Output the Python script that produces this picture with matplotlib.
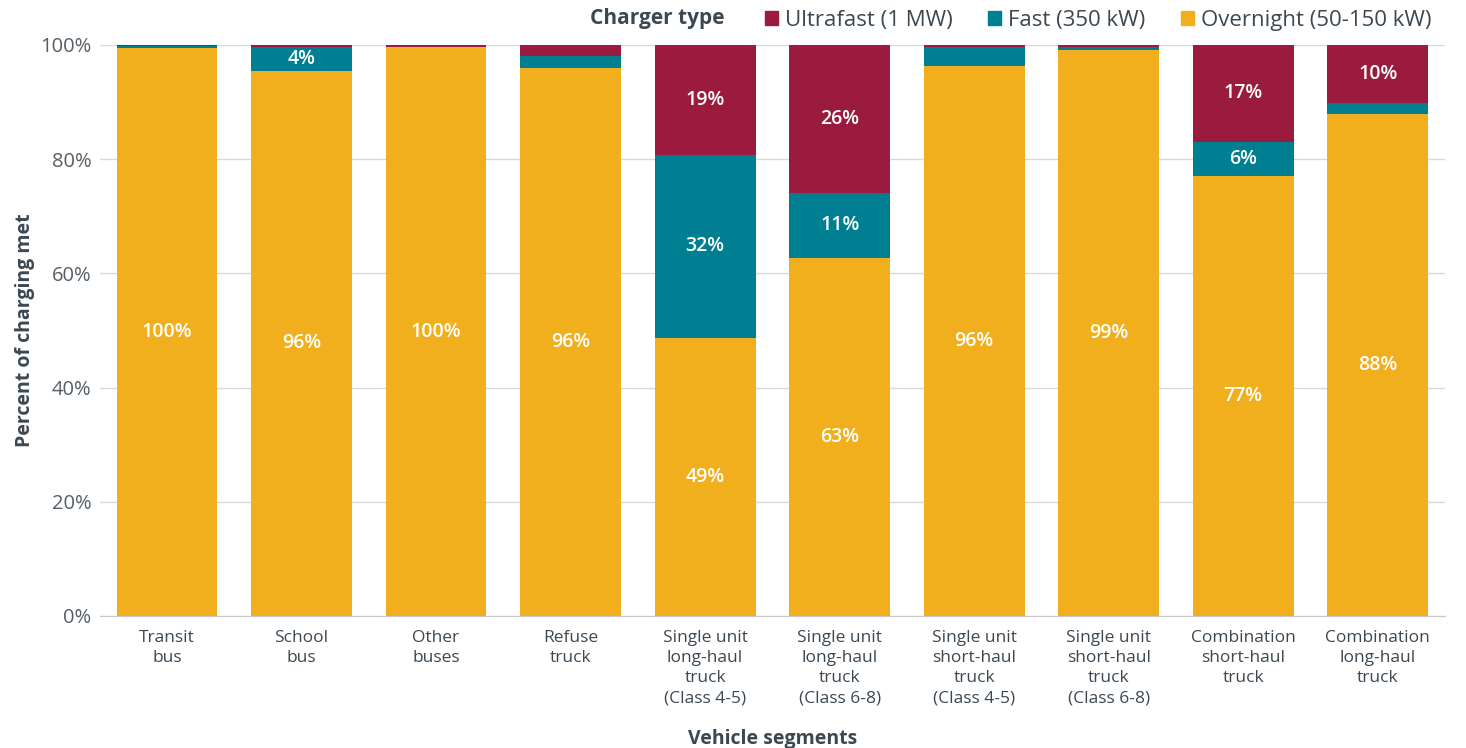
import matplotlib.pyplot as plt
import numpy as np
from matplotlib.patches import Patch

plt.rcParams["font.family"] = ["Open Sans", "DejaVu Sans"]

# Vehicle segments (x axis)
segments = [
    "Transit\nbus",
    "School\nbus",
    "Other\nbuses",
    "Refuse\ntruck",
    "Single unit\nlong-haul\ntruck\n(Class 4-5)",
    "Single unit\nlong-haul\ntruck\n(Class 6-8)",
    "Single unit\nshort-haul\ntruck\n(Class 4-5)",
    "Single unit\nshort-haul\ntruck\n(Class 6-8)",
    "Combination\nshort-haul\ntruck",
    "Combination\nlong-haul\ntruck",
]

# Share of charging met (%) by charger type
overnight = [99.5, 95.5, 99.6, 96.0, 48.7, 62.7, 96.3, 99.1, 77.1, 87.9]
fast = [0.25, 4.2, 0.0, 2.1, 32.0, 11.4, 3.4, 0.6, 5.9, 1.9]
ultrafast = [0.25, 0.3, 0.4, 1.9, 19.3, 25.9, 0.3, 0.3, 17.0, 10.2]

series_names = ["Ultrafast (1 MW)", "Fast (350 kW)", "Overnight (50-150 kW)"]
colors = {"overnight": "#f2af1d", "fast": "#007f92", "ultrafast": "#9b1b3e"}

text_dark = "#3b4852"
label_min = 3.8  # hide labels for thin segments

fig = plt.figure(figsize=(14.66, 7.48), dpi=100)
ax = fig.add_axes([0.068, 0.1765, 0.9177, 0.7635])

x = np.arange(len(segments))
width = 0.75
bottom = np.zeros(len(segments))
for key, vals in [("overnight", overnight), ("fast", fast), ("ultrafast", ultrafast)]:
    vals = np.array(vals)
    ax.bar(x, vals, width, bottom=bottom, color=colors[key], zorder=3)
    for xi, b, v in zip(x, bottom, vals):
        if v >= label_min:
            ax.text(xi, b + v / 2, f"{round(v):.0f}%", ha="center", va="center",
                    color="white", fontsize=14, fontweight="semibold", zorder=4)
    bottom += vals

ax.set_xlim(-0.5, len(segments) - 0.5)
ax.set_ylim(0, 100)
ax.set_yticks(np.arange(0, 101, 20))
ax.set_yticklabels([f"{v}%" for v in range(0, 101, 20)])
ax.grid(axis="y", color="#d9d9d9", linewidth=1, zorder=0)
ax.set_axisbelow(True)
for side in ["top", "right", "left"]:
    ax.spines[side].set_visible(False)
ax.spines["bottom"].set_color("#c8c8c8")
ax.spines["bottom"].set_linestyle((0, (2, 1)))
ax.tick_params(axis="y", length=0, pad=6, labelsize=14.5, labelcolor="#555f66")
ax.tick_params(axis="x", length=0, pad=10, labelsize=12.5, labelcolor=text_dark)
ax.set_xticks(x)
ax.set_xticklabels(segments, linespacing=1.35, va="top")

ax.set_ylabel("Percent of charging met", fontsize=14, fontweight="bold",
              color=text_dark, labelpad=4)
ax.set_xlabel("Vehicle segments", fontsize=14, fontweight="bold",
              color=text_dark, labelpad=16)

handles = [Patch(color=colors["ultrafast"]), Patch(color=colors["fast"]),
           Patch(color=colors["overnight"])]
leg = fig.legend(handles, series_names, loc="upper right",
                 bbox_to_anchor=(0.990, 1.014), ncol=3, frameon=False,
                 fontsize=16, handlelength=0.6, handleheight=0.6,
                 handletextpad=0.3, columnspacing=1.6)
for t in leg.get_texts():
    t.set_color(text_dark)

fig.text(0.494, 0.975, "Charger type", ha="right", va="center",
         fontsize=15, fontweight="bold", color=text_dark)

fig.savefig("out.png", dpi=100)
